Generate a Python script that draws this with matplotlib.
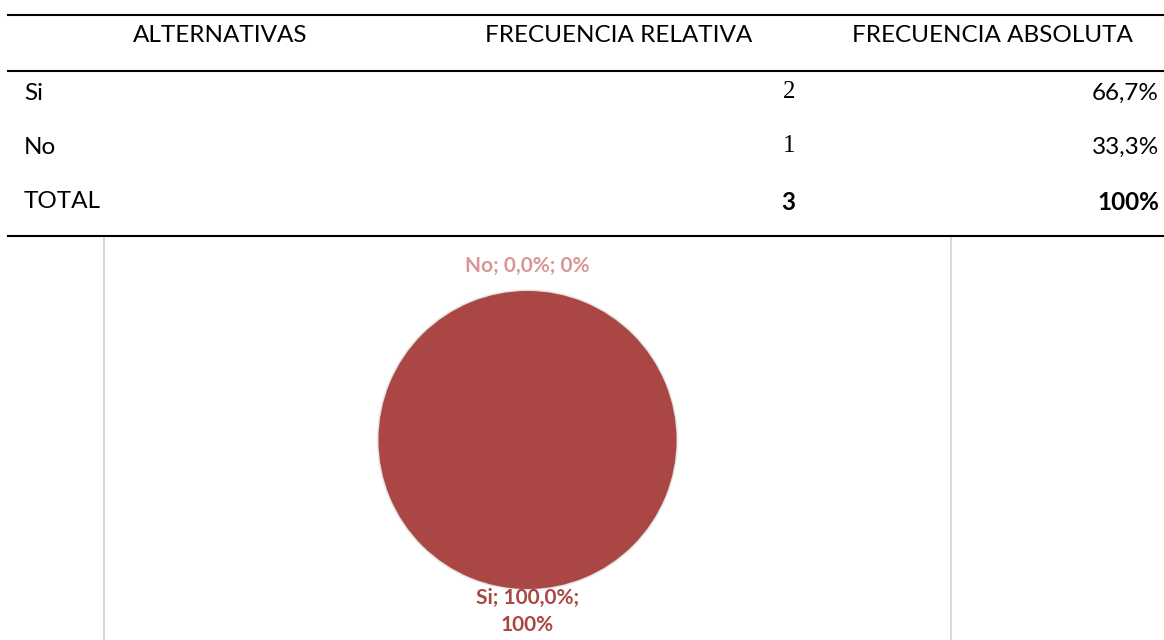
import matplotlib.pyplot as plt
from matplotlib.lines import Line2D
import numpy as np

# table data
headers = ['ALTERNATIVAS', 'FRECUENCIA RELATIVA', 'FRECUENCIA ABSOLUTA']
alternativas = ['Si', 'No']
frec_relativa = [2, 1]
frec_absoluta = ['66,7%', '33,3%']
total_label = 'TOTAL'
total_absoluta = '100%'

# pie data (as shown in the chart)
pie_labels = ['Si', 'No']
pie_values = [100.0, 0.0]
pie_texts = ['Si; 100,0%;\n100%', 'No; 0,0%; 0%']
pie_colors = ['#A94744', '#D99694']

W, H = 1164, 640
plt.rcParams['font.family'] = ['Lato', 'DejaVu Sans']

fig = plt.figure(figsize=(W / 100, H / 100), dpi=100)

# full-figure axes in pixel coordinates for the table
tab = fig.add_axes([0, 0, 1, 1])
tab.set_xlim(0, W)
tab.set_ylim(H, 0)
tab.axis('off')

for y in [15, 71, 236]:
    tab.add_line(Line2D([8, W], [y, y], color='black', lw=1.5, zorder=5))

hdr_x = [220, 619, 992]
for x, h in zip(hdr_x, headers):
    tab.text(x, 35, h, ha='center', va='center', fontsize=17.5)

row_y = [93, 147]
for y, alt, rel, ab in zip(row_y, alternativas, frec_relativa, frec_absoluta):
    tab.text(24, y, alt, ha='left', va='center', fontsize=17.5)
    tab.text(795, y - 1, str(rel), ha='right', va='center', fontsize=18,
             family='Liberation Serif')
    tab.text(1159, y, ab, ha='right', va='center', fontsize=17.5)

tab.text(24, 202, total_label, ha='left', va='center', fontsize=17.5)
tab.text(795, 202, str(sum(frec_relativa)), ha='right', va='center',
         fontsize=17.5, fontweight='bold')
tab.text(1159, 202, total_absoluta, ha='right', va='center', fontsize=17.5,
         fontweight='bold')

# chart area border
left, right, top, bottom = 104, 951, 236, 640
for x in [left, right]:
    tab.add_line(Line2D([x, x], [top, bottom], color='#D9D9D9', lw=1.5, zorder=1))

ax = fig.add_axes([left / W, 1 - bottom / H, (right - left) / W, (bottom - top) / H])
ax.patch.set_alpha(0)
r_px = 149
cy = 440

wedges, _ = ax.pie(pie_values, colors=['#AA4744', '#D99694'], startangle=90,
                   counterclock=False, radius=1.0, normalize=True,
                   wedgeprops=dict(linewidth=0, zorder=3))
ax.set_aspect('auto')
ax.set_xlim(-(right - left) / 2 / r_px, (right - left) / 2 / r_px)
ax.set_ylim(-(bottom - cy) / r_px, (cy - top) / r_px)

# soft shadow around the pie
for k, a in [(1.014, 0.04), (1.009, 0.05), (1.004, 0.07)]:
    ax.add_patch(plt.Circle((0, 0), k, color='black', alpha=a, lw=0, zorder=2))

for w, txt, col, dist in zip(wedges, pie_texts, pie_colors, [1.15, 1.17]):
    ang = np.deg2rad((w.theta1 + w.theta2) / 2)
    ax.text(dist * np.cos(ang), dist * np.sin(ang), txt, ha='center', va='center',
            fontsize=15, fontweight='bold', color=col, linespacing=1.45, zorder=1)

fig.savefig('out.png', dpi=100)
